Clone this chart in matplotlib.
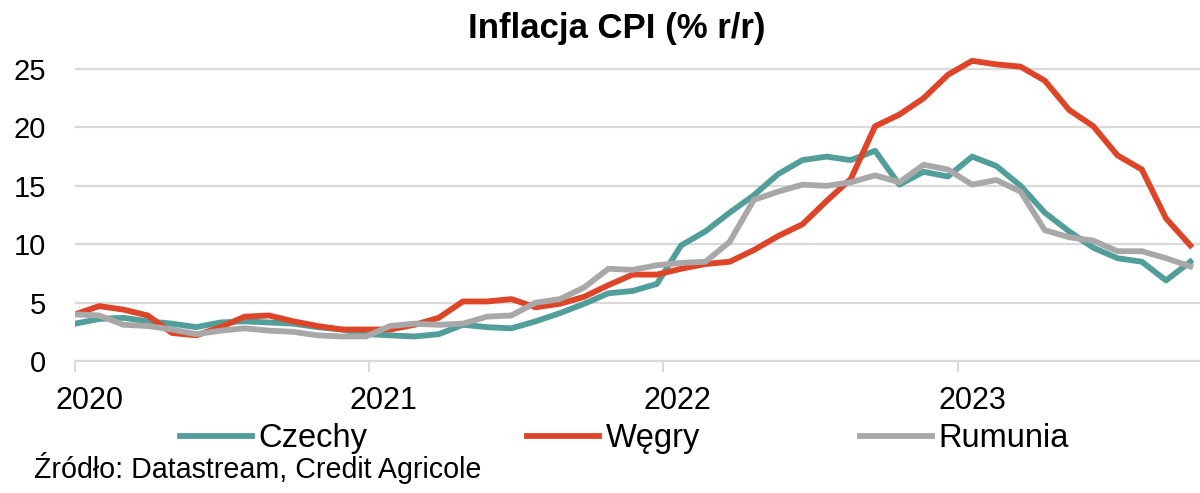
import matplotlib.pyplot as plt

# monthly CPI y/y, Dec 2019 - Oct 2023
czechy = [3.2, 3.6, 3.7, 3.4, 3.2, 2.9, 3.3, 3.4, 3.3, 3.2, 2.9, 2.7, 2.3,
          2.2, 2.1, 2.3, 3.1, 2.9, 2.8, 3.4, 4.1, 4.9, 5.8, 6.0, 6.6,
          9.9, 11.1, 12.7, 14.2, 16.0, 17.2, 17.5, 17.2, 18.0, 15.1, 16.2, 15.8,
          17.5, 16.7, 15.0, 12.7, 11.1, 9.7, 8.8, 8.5, 6.9, 8.5]
wegry = [4.0, 4.7, 4.4, 3.9, 2.4, 2.2, 2.9, 3.8, 3.9, 3.4, 3.0, 2.7, 2.7,
         2.7, 3.1, 3.7, 5.1, 5.1, 5.3, 4.6, 4.9, 5.5, 6.5, 7.4, 7.4,
         7.9, 8.3, 8.5, 9.5, 10.7, 11.7, 13.7, 15.6, 20.1, 21.1, 22.5, 24.5,
         25.7, 25.4, 25.2, 24.0, 21.5, 20.1, 17.6, 16.4, 12.2, 9.9]
rumunia = [4.0, 3.9, 3.1, 3.0, 2.7, 2.3, 2.6, 2.8, 2.6, 2.5, 2.2, 2.1, 2.1,
           3.0, 3.2, 3.1, 3.2, 3.8, 3.9, 5.0, 5.3, 6.3, 7.9, 7.8, 8.2,
           8.4, 8.5, 10.2, 13.8, 14.5, 15.1, 15.0, 15.3, 15.9, 15.3, 16.8, 16.4,
           15.1, 15.5, 14.5, 11.2, 10.6, 10.3, 9.4, 9.4, 8.8, 8.1]

years = ["2020", "2021", "2022", "2023"]
year_ticks = [0, 12.13, 24.26, 36.4]
y_ticks = [0, 5, 10, 15, 20, 25]

plt.rcParams["font.family"] = ["Liberation Sans", "DejaVu Sans"]

fig = plt.figure(figsize=(12, 4.93), dpi=100)
ax = fig.add_axes([0.0625, 0.2677, 0.9375, 0.6397])

x = list(range(len(czechy)))
ax.plot(x, czechy, color="#529E9B", lw=4.2, label="Czechy")
ax.plot(x, wegry, color="#DE4528", lw=4.2, label="Węgry")
ax.plot(x, rumunia, color="#A8A8A8", lw=4.2, label="Rumunia")

ax.set_xlim(0, 46.4)
ax.set_ylim(0, 27)
ax.set_yticks(y_ticks)
ax.tick_params(axis="y", length=0, pad=21, labelsize=21)
ax.yaxis.grid(True, color="#D9D9D9", lw=1.6)
ax.set_axisbelow(True)

ax.set_xticks(year_ticks)
ax.set_xticklabels([])
ax.set_xticks([t + 0.6 for t in year_ticks], minor=True)
ax.set_xticklabels(years, minor=True)
ax.tick_params(axis="x", which="major", length=8, width=1.5, color="#D9D9D9")
ax.tick_params(axis="x", which="minor", length=0, pad=18, labelsize=22)

for s in ["top", "right", "left"]:
    ax.spines[s].set_visible(False)
ax.spines["bottom"].set_color("#D9D9D9")
ax.spines["bottom"].set_linewidth(1.6)

fig.text(0.514, 0.943, "Inflacja CPI (% r/r)", ha="center", va="center",
         fontsize=25, fontweight="bold")

fig.legend(loc="center left", bbox_to_anchor=(0.15, 0.11), ncol=3,
           frameon=False, fontsize=23.5, borderpad=0, borderaxespad=0,
           handlelength=2.2, handletextpad=0.2, columnspacing=4.9)

fig.text(0.028, 0.05, "Źródło: Datastream, Credit Agricole", ha="left",
         va="center", fontsize=20.6)

fig.savefig("out.png", dpi=100)
